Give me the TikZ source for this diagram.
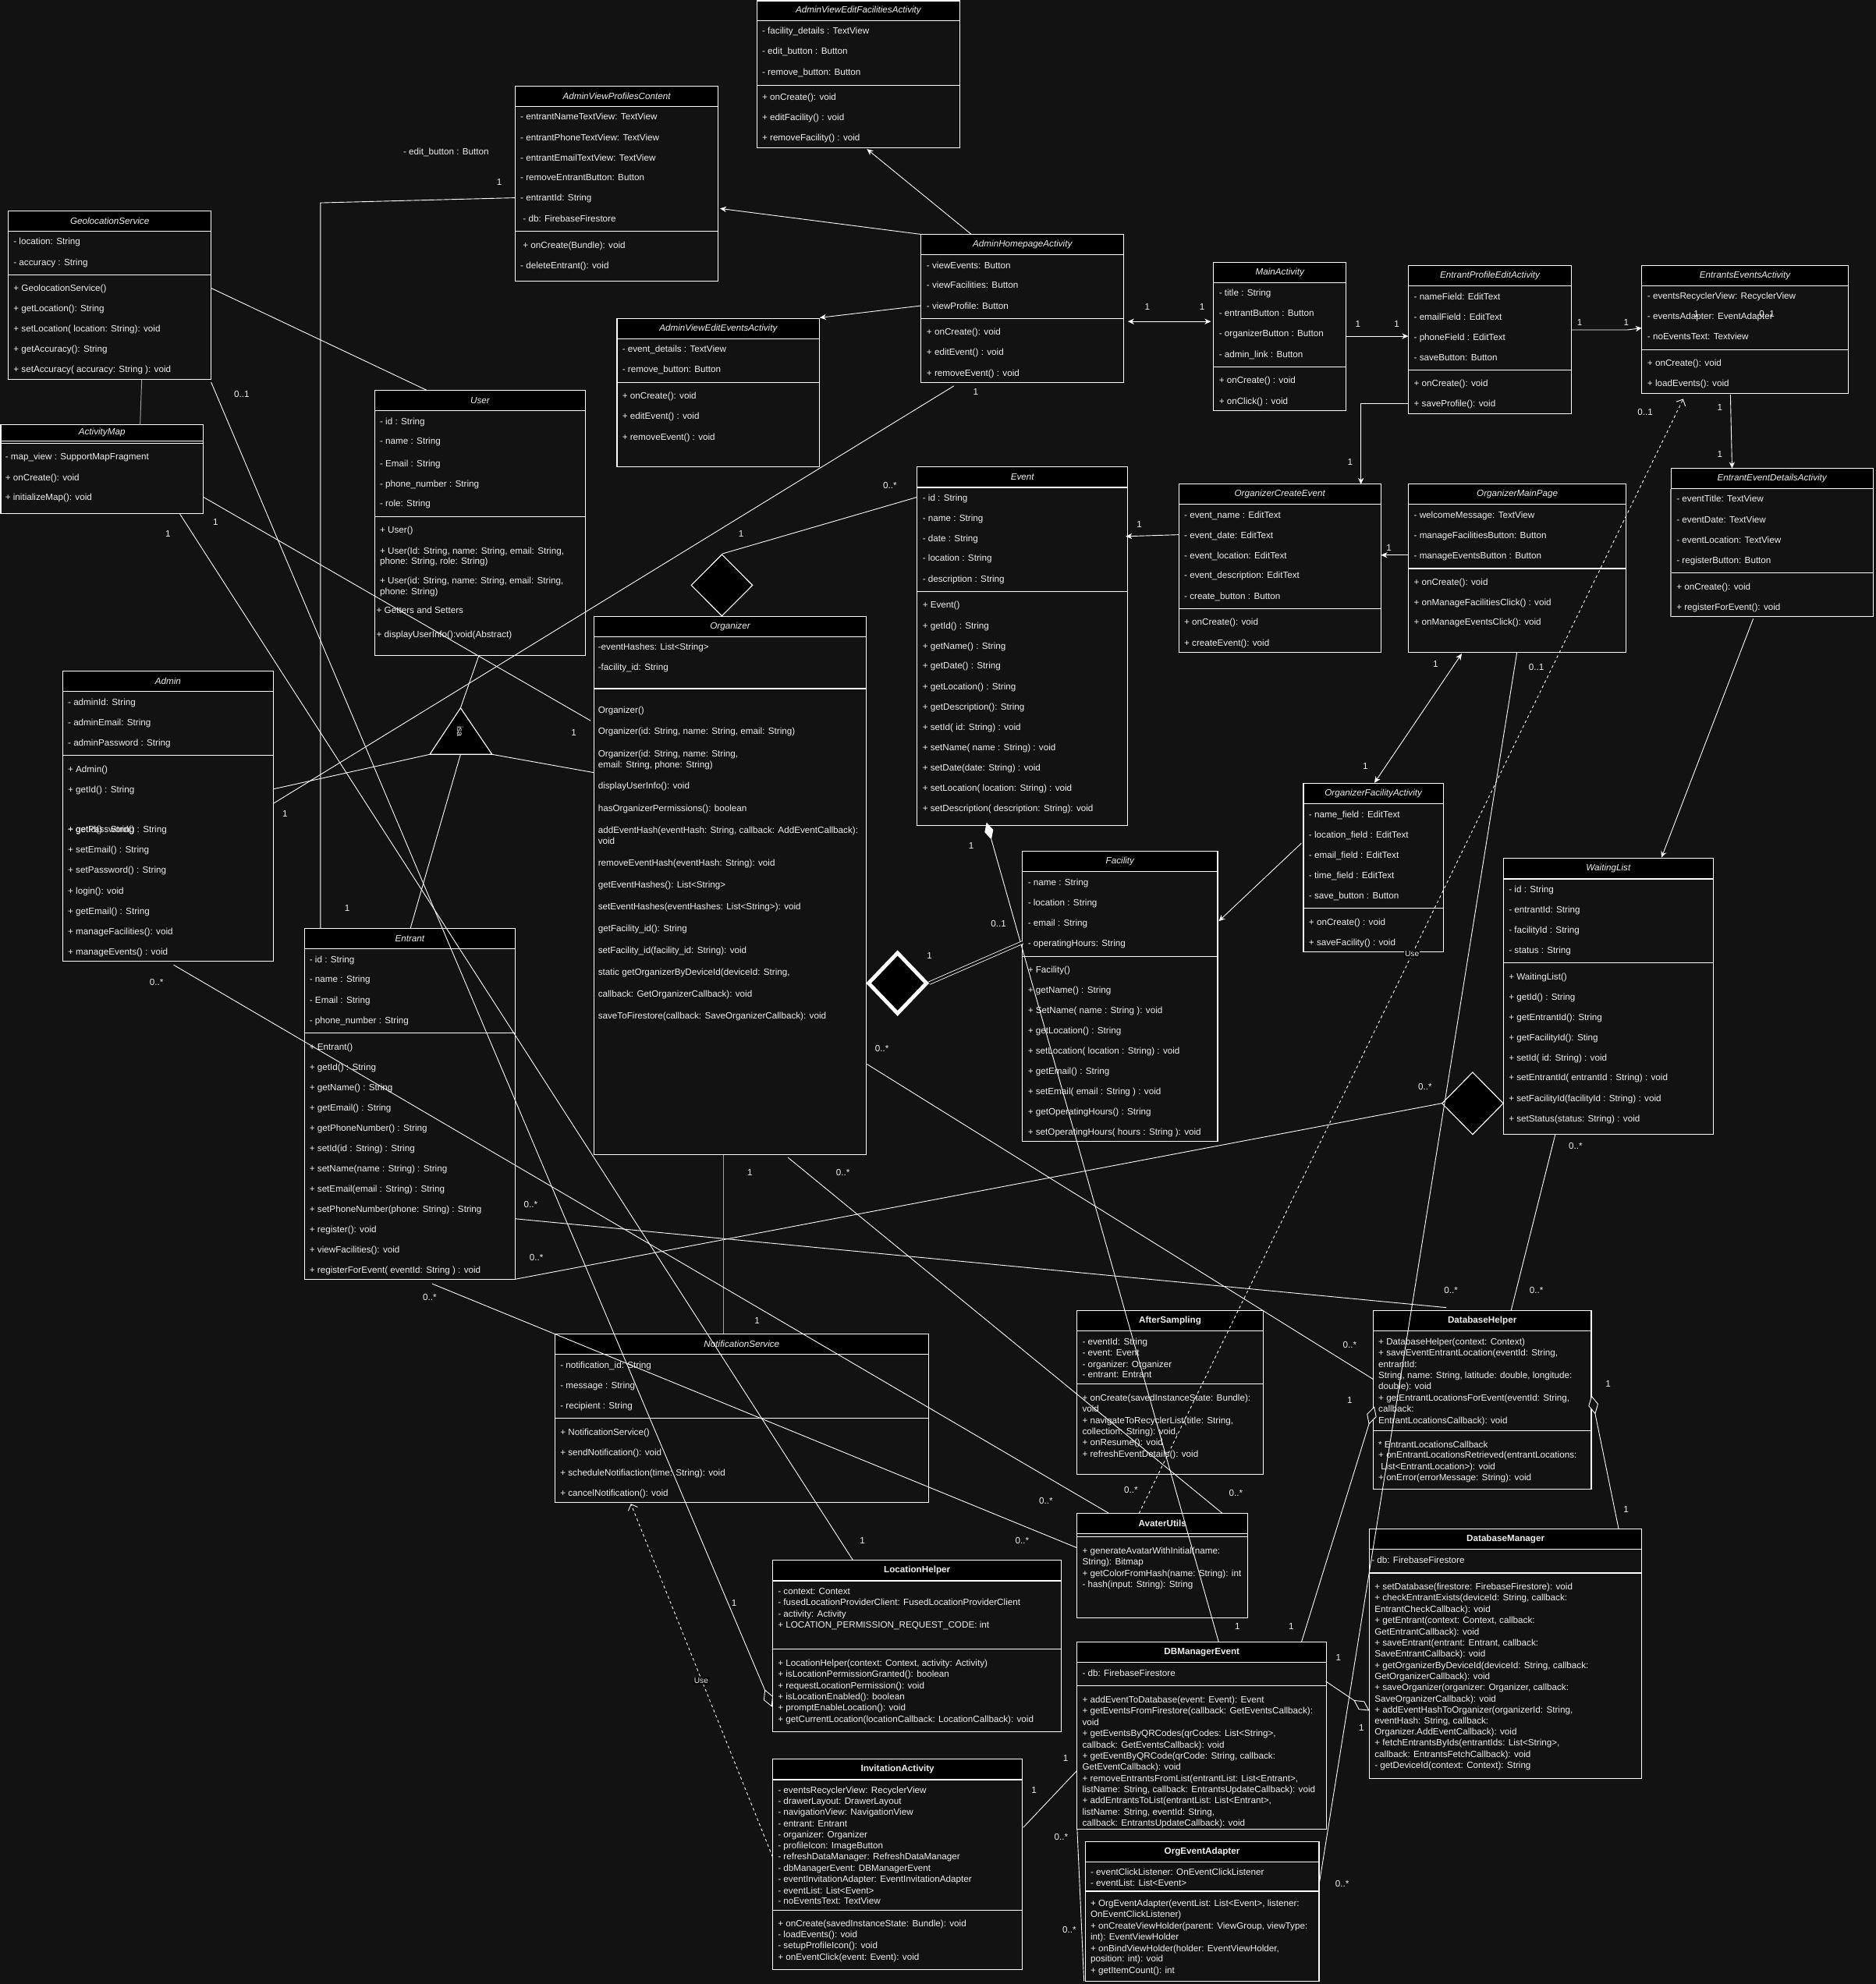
\documentclass[tikz,border=0pt]{standalone}
\usepackage{fontspec}
\setmainfont{Liberation Sans}
\usetikzlibrary{arrows.meta,fit,shapes.geometric}
\definecolor{bgc}{HTML}{121212}
\definecolor{txtc}{HTML}{EEEEEE}
\definecolor{grayln}{HTML}{A0A0A0}
\newcommand\fs{\fontsize{7.2}{8.6}\selectfont}
\newcounter{rowc}
\newcounter{mlc}
\newcommand\umlcls[8]{%
 \node[fit={(#2,#3) (#4,#5)}, inner sep=0pt, draw=none] (#1) {};
 \fill[black] (#2,#3) rectangle (#4,#6);
 \draw[boxline] (#2,#3) rectangle (#4,#5);
 \draw[boxline] (#2,#6) -- (#4,#6);
 \node[#8] (#1-t) at ({(#2+#4)/2},{(#3+#6)/2}) {#7};}
\newcommand\sepl[3]{\draw[boxline] (#1,#3) -- (#2,#3);}
\newcommand\rw[3]{\stepcounter{rowc}\node[rowtxt] (r\the\value{rowc}) at ({#1},{#2+2.5}) {#3};}
\newcommand\ml[3]{\stepcounter{mlc}\node[mult] (m\the\value{mlc}) at ({#1},{#2}) {#3};}
\tikzset{
 boxline/.style={draw=white, line width=0.7pt},
 rowtxt/.style={anchor=base west, inner sep=0pt, font=\fs, text=txtc},
 ttli/.style={inner sep=0pt, font=\fs\itshape, text=txtc},
 ttlb/.style={inner sep=0pt, font=\fs\bfseries, text=txtc},
 mult/.style={inner sep=0pt, font=\fs, text=txtc},
 uselbl/.style={inner sep=0.6pt, fill=black, font=\fontsize{6.3}{7}\selectfont, text=txtc},
 ln/.style={draw=white, line width=0.55pt},
 gln/.style={draw=grayln, line width=0.6pt},
 arr/.style={-{Stealth[length=5pt,width=4.5pt]}},
 barr/.style={{Stealth[length=5pt,width=4.5pt]}-{Stealth[length=5pt,width=4.5pt]}},
 usel/.style={draw=white, line width=0.55pt, dash pattern=on 2.2pt off 2.2pt, -{Straight Barb[length=4pt,width=8pt]}},
 odia/.style={-{Diamond[fill=bgc,length=15pt,width=8pt]}},
 bigdia/.style={diamond, draw=white, fill=black, line width=0.7pt, inner sep=0pt}
}
\begin{document}
\begin{tikzpicture}[x=1pt,y=-1pt]
\fill[bgc] (0,0) rectangle (1482,1568);
\useasboundingbox (0,0) rectangle (1482,1568);

% ---------- classes ----------
\umlcls{avef}{598}{0.6}{758.5}{117}{16.4}{AdminViewEditFacilitiesActivity}{ttli}
\sepl{598}{758.5}{67.5}
\rw{602}{24.5}{- facility\_details : TextView}
\rw{602}{40.6}{- edit\_button : Button}
\rw{602}{56.7}{- remove\_button: Button}
\rw{602}{77}{+ onCreate(): void}
\rw{602}{93}{+ editFacility() : void}
\rw{602}{109}{+ removeFacility() : void}

\umlcls{avpc}{407}{68}{567.6}{222}{84}{AdminViewProfilesContent}{ttli}
\sepl{407}{567.6}{182.7}
\rw{411}{92.3}{- entrantNameTextView: TextView}
\rw{411}{108.5}{- entrantPhoneTextView: TextView}
\rw{411}{124.5}{- entrantEmailTextView: TextView}
\rw{411}{140.4}{- removeEntrantButton: Button}
\rw{411}{156.5}{- entrantId: String}
\rw{413}{172.6}{- db: FirebaseFirestore}
\rw{413}{193.5}{+ onCreate(Bundle): void}
\rw{411}{209.6}{- deleteEntrant(): void}

\rw{318.5}{119.6}{- edit\_button : Button}

\umlcls{geo}{6.6}{166.6}{166.8}{300}{182.7}{GeolocationService}{ttli}
\sepl{6.6}{166.8}{217}
\rw{10.5}{191}{- location: String}
\rw{10.5}{207.1}{- accuracy : String}
\rw{10.5}{228}{+ GeolocationService()}
\rw{10.5}{244}{+ getLocation(): String}
\rw{10.5}{260}{+ setLocation( location: String): void}
\rw{10.5}{276}{+ getAccuracy(): String}
\rw{10.5}{292.1}{+ setAccuracy( accuracy: String ): void}

\umlcls{amap}{0.6}{335.7}{160.5}{406}{348.3}{ActivityMap}{ttli}
\sepl{0.6}{160.5}{350.5}
\rw{4}{361}{- map\_view : SupportMapFragment}
\rw{4}{377.2}{+ onCreate(): void}
\rw{4}{392.6}{+ initializeMap(): void}

\umlcls{user}{296}{308.5}{462.6}{518}{324.6}{User}{ttli}
\sepl{296}{462.6}{408.2}
\rw{300}{332.9}{- id : String}
\rw{300}{348.8}{- name : String}
\rw{300}{366.1}{- Email : String}
\rw{300}{382.2}{- phone\_number : String}
\rw{300}{398}{- role: String}
\rw{300}{419}{+ User()}
\rw{300}{435.2}{+ User(Id: String, name: String, email: String,}
\rw{300}{443.7}{phone: String, role: String)}
\rw{300}{458.6}{+ User(id: String, name: String, email: String,}
\rw{300}{467.2}{phone: String)}
\rw{297.3}{482}{+ Getters and Setters}
\rw{297.3}{501.6}{+ displayUserInfo():void(Abstract)}

\umlcls{admin}{49.5}{530.3}{216}{759.5}{546.4}{Admin}{ttli}
\sepl{49.5}{216}{597}
\rw{53.5}{554.7}{- adminId: String}
\rw{53.5}{571}{- adminEmail: String}
\rw{53.5}{587}{- adminPassword : String}
\rw{53.5}{607.8}{+ Admin()}
\rw{53.5}{624}{+ getId() : String}
\rw{53.5}{655.6}{+ getPassword() : String}
\rw{53.5}{655.6}{+ getId() : String}
\rw{53.5}{671.7}{+ setEmail() : String}
\rw{53.5}{687.8}{+ setPassword() : String}
\rw{53.5}{703.9}{+ login(): void}
\rw{53.5}{720}{+ getEmail() : String}
\rw{53.5}{736}{+ manageFacilities(): void}
\rw{53.5}{752}{+ manageEvents() : void}

\umlcls{entrant}{240.6}{733.9}{407}{1011}{750}{Entrant}{ttli}
\sepl{240.6}{407}{816.5}
\rw{244.4}{758.3}{- id : String}
\rw{244.4}{774}{- name : String}
\rw{244.4}{790.3}{- Email : String}
\rw{244.4}{806.2}{- phone\_number : String}
\rw{244.4}{827.3}{+ Entrant()}
\rw{244.4}{843.2}{+ getId() : String}
\rw{244.4}{859.3}{+ getName() : String}
\rw{244.4}{875.4}{+ getEmail() : String}
\rw{244.4}{891.3}{+ getPhoneNumber() : String}
\rw{244.4}{907.3}{+ setId(id : String) : String}
\rw{244.4}{923.5}{+ setName(name : String) : String}
\rw{244.4}{939.3}{+ setEmail(email : String) : String}
\rw{244.4}{955.4}{+ setPhoneNumber(phone: String) : String}
\rw{244.4}{971.5}{+ register(): void}
\rw{244.4}{987.6}{+ viewFacilities(): void}
\rw{244.4}{1003.5}{+ registerForEvent( eventId: String ) : void}

\umlcls{org}{469.2}{487.3}{684.6}{912.6}{503.3}{Organizer}{ttli}
\sepl{469.2}{684.6}{544.2}
\rw{472.4}{511.4}{-eventHashes: List<String>}
\rw{472.4}{527.5}{-facility\_id: String}
\rw{472.4}{561}{Organizer()}
\rw{472.4}{578}{Organizer(id: String, name: String, email: String)}
\rw{472.4}{595.5}{Organizer(id: String, name: String,}
\rw{472.4}{604}{email: String, phone: String)}
\rw{472.4}{621.2}{displayUserInfo(): void}
\rw{472.4}{638.5}{hasOrganizerPermissions(): boolean}
\rw{472.4}{655.9}{addEventHash(eventHash: String, callback: AddEventCallback):}
\rw{472.4}{664.4}{void}
\rw{472.4}{681.8}{removeEventHash(eventHash: String): void}
\rw{472.4}{699}{getEventHashes(): List<String>}
\rw{472.4}{716.2}{setEventHashes(eventHashes: List<String>): void}
\rw{472.4}{733.6}{getFacility\_id(): String}
\rw{472.4}{750.7}{setFacility\_id(facility\_id: String): void}
\rw{472.4}{768}{static getOrganizerByDeviceId(deviceId: String,}
\rw{472.4}{785.3}{callback: GetOrganizerCallback): void}
\rw{472.4}{802.6}{saveToFirestore(callback: SaveOrganizerCallback): void}

\umlcls{avee}{487.5}{251.9}{647.7}{368.9}{268}{AdminViewEditEventsActivity}{ttli}
\sepl{487.5}{647.7}{302.2}
\rw{491.5}{276}{- event\_details : TextView}
\rw{491.5}{292}{- remove\_button: Button}
\rw{491.5}{313}{+ onCreate(): void}
\rw{491.5}{329}{+ editEvent() : void}
\rw{491.5}{345.2}{+ removeEvent() : void}

\umlcls{ahome}{727.8}{185.2}{888}{302.2}{201.3}{AdminHomepageActivity}{ttli}
\sepl{727.8}{888}{251.9}
\rw{732}{209.6}{- viewEvents: Button}
\rw{732}{225.5}{- viewFacilities: Button}
\rw{732}{241.6}{- viewProfile: Button}
\rw{732}{262.4}{+ onCreate(): void}
\rw{732}{278.5}{+ editEvent() : void}
\rw{732}{294.7}{+ removeEvent() : void}

\umlcls{main}{958.9}{207.6}{1063.6}{324.6}{223.4}{MainActivity}{ttli}
\sepl{958.9}{1063.6}{290.1}
\rw{963}{231.5}{- title : String}
\rw{963}{247.6}{- entrantButton : Button}
\rw{963}{263.7}{- organizerButton : Button}
\rw{963}{279.8}{- admin\_link : Button}
\rw{963}{300.7}{+ onCreate() : void}
\rw{963}{316.8}{+ onClick() : void}

\umlcls{epea}{1112.8}{209.9}{1241.8}{326.9}{226}{EntrantProfileEditActivity}{ttli}
\sepl{1112.8}{1241.8}{292.4}
\rw{1117}{234.3}{- nameField: EditText}
\rw{1117}{250.4}{- emailField : EditText}
\rw{1117}{266.5}{- phoneField : EditText}
\rw{1117}{282.6}{- saveButton: Button}
\rw{1117}{303}{+ onCreate(): void}
\rw{1117}{319}{+ saveProfile(): void}

\umlcls{eea}{1297.3}{209.9}{1460.3}{311}{226}{EntrantsEventsActivity}{ttli}
\sepl{1297.3}{1460.3}{276.5}
\rw{1301.5}{234}{- eventsRecyclerView: RecyclerView}
\rw{1301.5}{250}{- eventsAdapter: EventAdapter}
\rw{1301.5}{266}{- noEventsText: Textview}
\rw{1301.5}{287}{+ onCreate(): void}
\rw{1301.5}{303.2}{+ loadEvents(): void}

\umlcls{eed}{1320.3}{370.1}{1480}{487.3}{386.2}{EntrantEventDetailsActivity}{ttli}
\sepl{1320.3}{1480}{452.8}
\draw[draw=grayln, line width=0.9pt] (1320.3,386.6) -- (1320.3,487.3);
\rw{1324.5}{394.4}{- eventTitle: TextView}
\rw{1324.5}{410.5}{- eventDate: TextView}
\rw{1324.5}{426.6}{- eventLocation: TextView}
\rw{1324.5}{442.6}{- registerButton: Button}
\rw{1324.5}{463.6}{+ onCreate(): void}
\rw{1324.5}{479.5}{+ registerForEvent(): void}

\umlcls{event}{724.6}{369.1}{891.1}{652.6}{385.2}{Event}{ttli}
\sepl{724.6}{891.1}{467.7}
\rw{728.8}{393.2}{- id : String}
\rw{728.8}{409.3}{- name : String}
\rw{728.8}{425.4}{- date : String}
\rw{728.8}{441.2}{- location : String}
\rw{728.8}{457.3}{- description : String}
\rw{728.8}{478.2}{+ Event()}
\rw{728.8}{494.3}{+ getId() : String}
\rw{728.8}{510.4}{+ getName() : String}
\rw{728.8}{526.3}{+ getDate() : String}
\rw{728.8}{542.4}{+ getLocation() : String}
\rw{728.8}{558.5}{+ getDescription(): String}
\rw{728.8}{574.6}{+ setId( id: String) : void}
\rw{728.8}{590.5}{+ setName( name : String) : void}
\rw{728.8}{606.6}{+ setDate(date: String) : void}
\rw{728.8}{622.7}{+ setLocation( location: String) : void}
\rw{728.8}{638.5}{+ setDescription( description: String): void}

\umlcls{oce}{931.5}{382.7}{1091}{515.7}{398.4}{OrganizerCreateEvent}{ttli}
\sepl{931.5}{1091}{481.2}
\rw{935.5}{406.8}{- event\_name : EditText}
\rw{935.5}{422.8}{- event\_date: EditText}
\rw{935.5}{438.9}{- event\_location: EditText}
\rw{935.5}{454.8}{- event\_description: EditText}
\rw{935.5}{470.9}{- create\_button : Button}
\rw{935.5}{491.8}{+ onCreate(): void}
\rw{935.5}{507.9}{+ createEvent(): void}

\umlcls{omp}{1112.8}{382.7}{1285}{515.7}{398.4}{OrganizerMainPage}{ttli}
\sepl{1112.8}{1285}{449.3}
\rw{1117}{406.8}{- welcomeMessage: TextView}
\rw{1117}{422.8}{- manageFacilitiesButton: Button}
\rw{1117}{438.9}{- manageEventsButton : Button}
\rw{1117}{459.8}{+ onCreate(): void}
\rw{1117}{475.9}{+ onManageFacilitiesClick() : void}
\rw{1117}{491.8}{+ onManageEventsClick(): void}

\umlcls{ofa}{1029.9}{619.2}{1140.5}{752.2}{635.2}{OrganizerFacilityActivity}{ttli}
\sepl{1029.9}{1140.5}{717.8}
\rw{1034}{643.5}{- name\_field : EditText}
\rw{1034}{659.6}{- location\_field : EditText}
\rw{1034}{675.7}{- email\_field : EditText}
\rw{1034}{691.7}{- time\_field : EditText}
\rw{1034}{707.8}{- save\_button : Button}
\rw{1034}{728.6}{+ onCreate() : void}
\rw{1034}{744.7}{+ saveFacility() : void}

\umlcls{fac}{807.9}{673}{962.1}{902.1}{689}{Facility}{ttli}
\sepl{807.9}{962.1}{755.7}
\rw{812}{697.1}{- name : String}
\rw{812}{713.2}{- location : String}
\rw{812}{729.3}{- email : String}
\rw{812}{745.4}{- operatingHours: String}
\rw{812}{766.1}{+ Facility()}
\rw{812}{782.3}{+ getName() : String}
\rw{812}{798.2}{+ SetName( name : String ): void}
\rw{812}{814.2}{+ getLocation() : String}
\rw{812}{830.3}{+ setLocation( location : String) : void}
\rw{812}{846.3}{+ getEmail() : String}
\rw{812}{862.3}{+ setEmail( email : String ) : void}
\rw{812}{878.4}{+ getOperatingHours() : String}
\rw{812}{894.5}{+ setOperatingHours( hours : String ): void}

\umlcls{wl}{1187.9}{678.5}{1353.7}{896.6}{694.6}{WaitingList}{ttli}
\sepl{1187.9}{1353.7}{761}
\rw{1192}{702.6}{- id : String}
\rw{1192}{718.8}{- entrantId: String}
\rw{1192}{734.8}{- facilityId : String}
\rw{1192}{750.7}{- status : String}
\rw{1192}{771.8}{+ WaitingList()}
\rw{1192}{787.9}{+ getId() : String}
\rw{1192}{803.7}{+ getEntrantId(): String}
\rw{1192}{819.8}{+ getFacilityId(): Sting}
\rw{1192}{835.9}{+ setId( id: String) : void}
\rw{1192}{851.7}{+ setEntrantId( entrantId : String) : void}
\rw{1192}{867.9}{+ setFacilityId(facilityId : String) : void}
\rw{1192}{884}{+ setStatus(status: String) : void}

\umlcls{ns}{438.3}{1054.2}{733.8}{1187.3}{1070.4}{NotificationService}{ttli}
\sepl{438.3}{733.8}{1121}
\rw{442.5}{1078.7}{- notification\_id: String}
\rw{442.5}{1094.8}{- message : String}
\rw{442.5}{1111}{- recipient : String}
\rw{442.5}{1131.6}{+ NotificationService()}
\rw{442.5}{1147.6}{+ sendNotification(): void}
\rw{442.5}{1163.8}{+ scheduleNotifiaction(time: String): void}
\rw{442.5}{1179.7}{+ cancelNotification(): void}

\umlcls{as}{851.1}{1036}{998}{1165}{1051.7}{AfterSampling}{ttlb}
\sepl{851.1}{998}{1093.8}
\rw{855}{1060.4}{- eventId: String}
\rw{855}{1068.9}{- event: Event}
\rw{855}{1078}{- organizer: Organizer}
\rw{855}{1086.5}{- entrant: Entrant}
\rw{855}{1104.6}{+ onCreate(savedInstanceState: Bundle):}
\rw{855}{1113.2}{void}
\rw{855}{1122.5}{+ navigateToRecyclerList(title: String,}
\rw{855}{1131}{collection: String): void,}
\rw{855}{1140.1}{+ onResume(): void}
\rw{855}{1149}{+ refreshEventDetails(): void}

\umlcls{dbh}{1085}{1036}{1257.3}{1177}{1051.7}{DatabaseHelper}{ttlb}
\sepl{1085}{1257.3}{1130.8}
\rw{1089}{1060.4}{+ DatabaseHelper(context: Context)}
\rw{1089}{1068.9}{+ saveEventEntrantLocation(eventId: String,}
\rw{1089}{1078}{entrantId:}
\rw{1089}{1086.8}{String, name: String, latitude: double, longitude:}
\rw{1089}{1095.8}{double): void}
\rw{1089}{1104.6}{+ getEntrantLocationsForEvent(eventId: String,}
\rw{1089}{1113.2}{callback:}
\rw{1089}{1122.5}{EntrantLocationsCallback): void}
\rw{1089}{1141.5}{* EntrantLocationsCallback}
\rw{1089}{1150}{+ onEntrantLocationsRetrieved(entrantLocations:}
\rw{1091}{1159.2}{List<EntrantLocation>): void}
\rw{1089}{1167.7}{+ onError(errorMessage: String): void}

\umlcls{dbm}{1082}{1208.5}{1297.3}{1405.8}{1224.5}{DatabaseManager}{ttlb}
\sepl{1082}{1297.3}{1243.2}
\rw{1083.5}{1232.8}{- db: FirebaseFirestore}
\rw{1086}{1253.8}{+ setDatabase(firestore: FirebaseFirestore): void}
\rw{1086}{1262.4}{+ checkEntrantExists(deviceId: String, callback:}
\rw{1086}{1271.8}{EntrantCheckCallback): void}
\rw{1086}{1280.5}{+ getEntrant(context: Context, callback:}
\rw{1086}{1289.5}{GetEntrantCallback): void}
\rw{1086}{1298.1}{+ saveEntrant(entrant: Entrant, callback:}
\rw{1086}{1306.7}{SaveEntrantCallback): void}
\rw{1086}{1316}{+ getOrganizerByDeviceId(deviceId: String, callback:}
\rw{1086}{1324.6}{GetOrganizerCallback): void}
\rw{1086}{1333.7}{+ saveOrganizer(organizer: Organizer, callback:}
\rw{1086}{1342.5}{SaveOrganizerCallback): void}
\rw{1086}{1351.1}{+ addEventHashToOrganizer(organizerId: String,}
\rw{1086}{1360.2}{eventHash: String, callback:}
\rw{1086}{1368.8}{Organizer.AddEventCallback): void}
\rw{1086}{1377.4}{+ fetchEntrantsByIds(entrantIds: List<String>,}
\rw{1086}{1386.7}{callback: EntrantsFetchCallback): void}
\rw{1086}{1395.3}{- getDeviceId(context: Context): String}

\umlcls{av}{851.1}{1196.1}{986}{1278.7}{1211.8}{AvaterUtils}{ttlb}
\sepl{851.1}{986}{1214.6}
\rw{855}{1225.3}{+ generateAvatarWithInitial(name:}
\rw{855}{1234.1}{String): Bitmap}
\rw{855}{1243.5}{+ getColorFromHash(name: String): int}
\rw{855}{1252.1}{- hash(input: String): String}

\umlcls{lh}{610.5}{1232.8}{838.8}{1368.8}{1249.3}{LocationHelper}{ttlb}
\sepl{610.5}{838.8}{1303.5}
\rw{614.5}{1257.7}{- context: Context}
\rw{614.5}{1266.3}{- fusedLocationProviderClient: FusedLocationProviderClient}
\rw{614.5}{1275.4}{- activity: Activity}
\rw{614.5}{1284}{+ LOCATION\_PERMISSION\_REQUEST\_CODE: int}
\rw{614.5}{1314.4}{+ LocationHelper(context: Context, activity: Activity)}
\rw{614.5}{1323}{+ isLocationPermissionGranted(): boolean}
\rw{614.5}{1332}{+ requestLocationPermission(): void}
\rw{614.5}{1340.6}{+ isLocationEnabled(): boolean}
\rw{614.5}{1349.6}{+ promptEnableLocation(): void}
\rw{614.5}{1358.5}{+ getCurrentLocation(locationCallback: LocationCallback): void}

\umlcls{ia}{610.5}{1390.3}{807.9}{1556.7}{1406.5}{InvitationActivity}{ttlb}
\sepl{610.5}{807.9}{1509.8}
\rw{614.5}{1414.6}{- eventsRecyclerView: RecyclerView}
\rw{614.5}{1423.5}{- drawerLayout: DrawerLayout}
\rw{614.5}{1432.3}{- navigationView: NavigationView}
\rw{614.5}{1441}{- entrant: Entrant}
\rw{614.5}{1450}{- organizer: Organizer}
\rw{614.5}{1458.8}{- profileIcon: ImageButton}
\rw{614.5}{1467.3}{- refreshDataManager: RefreshDataManager}
\rw{614.5}{1476.4}{- dbManagerEvent: DBManagerEvent}
\rw{614.5}{1485}{- eventInvitationAdapter: EventInvitationAdapter}
\rw{614.5}{1494}{- eventList: List<Event>}
\rw{614.5}{1502.6}{- noEventsText: TextView}
\rw{614.5}{1520}{+ onCreate(savedInstanceState: Bundle): void}
\rw{614.5}{1528.6}{- loadEvents(): void}
\rw{614.5}{1537.7}{- setupProfileIcon(): void}
\rw{614.5}{1546.6}{+ onEventClick(event: Event): void}

\umlcls{dbme}{851.1}{1297.9}{1048.2}{1445.6}{1313.8}{DBManagerEvent}{ttlb}
\sepl{851.1}{1048.2}{1332.3}
\rw{855}{1322.2}{- db: FirebaseFirestore}
\rw{855}{1343.2}{+ addEventToDatabase(event: Event): Event}
\rw{855}{1351.8}{+ getEventsFromFirestore(callback: GetEventsCallback):}
\rw{855}{1360.9}{void}
\rw{855}{1369.8}{+ getEventsByQRCodes(qrCodes: List<String>,}
\rw{855}{1378.9}{callback: GetEventsCallback): void}
\rw{855}{1387.7}{+ getEventByQRCode(qrCode: String, callback:}
\rw{855}{1396}{GetEventCallback): void}
\rw{855}{1405.4}{+ removeEntrantsFromList(entrantList: List<Entrant>,}
\rw{855}{1414}{listName: String, callback: EntrantsUpdateCallback): void}
\rw{855}{1423.1}{+ addEntrantsToList(entrantList: List<Entrant>,}
\rw{855}{1432}{listName: String, eventId: String,}
\rw{855}{1440.5}{callback: EntrantsUpdateCallback): void}

\umlcls{oea}{857.4}{1455.4}{1042.2}{1565.8}{1471.6}{OrgEventAdapter}{ttlb}
\sepl{857.4}{1042.2}{1494.6}
\rw{861.5}{1479.7}{- eventClickListener: OnEventClickListener}
\rw{861.5}{1488}{- eventList: List<Event>}
\rw{861.5}{1504.3}{+ OrgEventAdapter(eventList: List<Event>, listener:}
\rw{861.5}{1512.8}{OnEventClickListener)}
\rw{861.5}{1522}{+ onCreateViewHolder(parent: ViewGroup, viewType:}
\rw{861.5}{1530.4}{int): EventViewHolder}
\rw{861.5}{1539.6}{+ onBindViewHolder(holder: EventViewHolder,}
\rw{861.5}{1548.2}{position: int): void}
\rw{861.5}{1557}{+ getItemCount(): int}

% ---------- diamonds and isa ----------
\node[bigdia, minimum width=48.6pt, minimum height=48.8pt] (ordd) at (570.4,462.5) {};
\node[bigdia, line width=3pt, minimum width=47pt, minimum height=49pt] (facd) at (709.2,777) {};
\node[bigdia, minimum width=48.6pt, minimum height=49.4pt] (wld) at (1163.6,872) {};
\coordinate (isaT) at (363.9,559.5);
\coordinate (isaL) at (339.6,596.2);
\coordinate (isaR) at (388.8,596.2);
\coordinate (isaB) at (363.9,596.2);
\filldraw[fill=black, draw=white, line width=0.7pt] (isaT) -- (isaR) -- (isaL) -- cycle;
\node[rotate=-90, inner sep=0pt, font=\fontsize{6.5}{7}\selectfont, text=txtc] (isa) at (363.6,578) {isa};

% ---------- connectors ----------
\coordinate (p1a) at (727.8,185.2); \coordinate (p1b) at (568.9,164.8);
\draw[ln,arr] (p1a) -- (p1b);
\coordinate (p2a) at (767.5,185.2); \coordinate (p2b) at (685,117.8);
\draw[ln,arr] (p2a) -- (p2b);
\coordinate (p3a) at (727.8,241.6); \coordinate (p3b) at (647.7,251.1);
\draw[ln,arr] (p3a) -- (p3b);
\coordinate (p4a) at (891.1,254.1); \coordinate (p4b) at (956.8,254.1);
\draw[ln,barr] (p4a) -- (p4b);
\coordinate (p5a) at (1063.6,265.7); \coordinate (p5b) at (1112.8,265.7);
\draw[ln,arr] (p5a) -- (p5b);
\coordinate (p6a) at (1241.8,260.7); \coordinate (p6m) at (1286,260.7); \coordinate (p6b) at (1297.3,259.2);
\draw[ln,arr] (p6a) -- (p6m) -- (p6b);
\coordinate (p7a) at (1112.8,319); \coordinate (p7b) at (1075.3,382.7);
\draw[ln,arr] (p7a) -| (p7b);
\coordinate (p8a) at (1367.3,312); \coordinate (p8b) at (1368.6,370.1);
\draw[ln,arr] (p8a) -- (p8b);
\coordinate (p9a) at (900,1196.1); \coordinate (p9b) at (1330,315.3);
\draw[usel] (p9a) -- (p9b);
\coordinate (p10a) at (1112.8,438.7); \coordinate (p10b) at (1091.2,438.7);
\draw[ln,arr] (p10a) -- (p10b);
\coordinate (p11a) at (931.5,422.6); \coordinate (p11b) at (889.5,423.9);
\draw[ln,arr] (p11a) -- (p11b);
\coordinate (p12a) at (1155,516.6); \coordinate (p12b) at (1086,618.7);
\draw[ln,barr] (p12a) -- (p12b);
\coordinate (p13a) at (1028.3,666.4); \coordinate (p13b) at (963,728);
\draw[ln,arr] (p13a) -- (p13b);
\coordinate (p14a) at (1385.3,489); \coordinate (p14b) at (1312.8,677.8);
\draw[ln,arr] (p14a) -- (p14b);
\coordinate (p15a) at (1198.6,515.7); \coordinate (p15b) at (1042.5,1488);
\draw[ln] (p15a) -- (p15b);
\coordinate (p16a) at (1228.9,896.6); \coordinate (p16b) at (1194,1035.7);
\draw[ln] (p16a) -- (p16b);
\coordinate (p17a) at (407,963.2); \coordinate (p17b) at (1142.8,1033.4);
\draw[ln] (p17a) -- (p17b);
\coordinate (p18a) at (407,1011);
\draw[ln] (p18a) -- (wld.west);
\coordinate (p19a) at (685,841); \coordinate (p19b) at (1085,1090);
\draw[ln] (p19a) -- (p19b);
\coordinate (p20a) at (571.4,912.6); \coordinate (p20b) at (571.4,1054.2);
\draw[gln] (p20a) -- (p20b);
\coordinate (p21a) at (622.5,914.7); \coordinate (p21b) at (966,1196.1);
\draw[ln] (p21a) -- (p21b);
\coordinate (p22a) at (137.2,762.6); \coordinate (p22b) at (876.4,1196.1);
\draw[ln] (p22a) -- (p22b);
\coordinate (p23a) at (341.5,1014.6); \coordinate (p23b) at (851.1,1223.3);
\draw[ln] (p23a) -- (p23b);
\coordinate (p24a) at (779.5,650); \coordinate (p24b) at (963,1297.9);
\draw[ln,{Diamond[fill=white,length=14pt,width=7pt]}-] (p24a) -- (p24b);
\coordinate (p25b) at (808,744.8);
\draw[draw=white, line width=0.5pt, double=bgc, double distance=1.8pt] (facd.east) -- (p25b);
\coordinate (p26a) at (724.6,392.9);
\draw[ln] (p26a) -- (ordd.north);
\coordinate (p27a) at (753.7,305); \coordinate (p27b) at (216,635);
\draw[ln] (p27a) -- (p27b);
\coordinate (p28a) at (216,623.6);
\draw[ln] (p28a) -- (isaL);
\coordinate (p29b) at (469.2,610.6);
\draw[ln] (isaR) -- (p29b);
\coordinate (p30b) at (378.4,518);
\draw[ln] (isaT) -- (p30b);
\coordinate (p31b) at (324.2,733.9);
\draw[ln] (isaB) -- (p31b);
\coordinate (p32a) at (407.1,156.3); \coordinate (p32m) at (253.2,160.3); \coordinate (p32b) at (253.2,733.9);
\draw[ln] (p32a) -- (p32m) -- (p32b);
\coordinate (p33a) at (166.8,227.7); \coordinate (p33b) at (337.4,308.5);
\draw[ln] (p33a) -- (p33b);
\coordinate (p34a) at (112,300); \coordinate (p34b) at (110.7,335.7);
\draw[gln] (p34a) -- (p34b);
\coordinate (p35a) at (160.8,392.9); \coordinate (p35b) at (466.7,569.6);
\draw[ln] (p35a) -- (p35b);
\coordinate (p36a) at (142,406); \coordinate (p36b) at (673.8,1232.8);
\draw[ln] (p36a) -- (p36b);
\coordinate (p37a) at (166.8,302); \coordinate (p37b) at (610,1349);
\draw[ln,odia] (p37a) -- (p37b);
\coordinate (p38a) at (610.5,1467.6); \coordinate (p38b) at (498.5,1188.5);
\draw[usel] (p38a) -- (p38b);
\coordinate (p39a) at (808.5,1444.3); \coordinate (p39b) at (851.1,1399.2);
\draw[ln] (p39a) -- (p39b);
\coordinate (p40a) at (851.1,1445.6); \coordinate (p40b) at (856.5,1565.8);
\draw[ln] (p40a) -- (p40b);
\coordinate (p41a) at (1028.3,1297.9); \coordinate (p41b) at (1086,1111.5);
\draw[ln,odia] (p41a) -- (p41b);
\coordinate (p42a) at (1279,1208.5); \coordinate (p42b) at (1257.5,1103);
\draw[ln,odia] (p42a) -- (p42b);
\coordinate (p43a) at (1047.6,1328.8); \coordinate (p43b) at (1082,1352);
\draw[ln,odia] (p43a) -- (p43b);

% ---------- labels ----------
\node[uselbl] (use1) at (1115.7,754) {Use};
\node[uselbl] (use2) at (554,1328.3) {Use};
\ml{906.6}{242.3}{1} \ml{949.8}{242.3}{1}
\ml{1073}{255.9}{1} \ml{1103.7}{255.9}{1}
\ml{1248.1}{254.6}{1} \ml{1285}{254.6}{1}
\ml{1066.8}{365.4}{1}
\ml{1358.9}{322}{1} \ml{1358.9}{359}{1}
\ml{1300}{325.9}{0..1} \ml{893.7}{1177.6}{0..*}
\ml{1097.4}{433.2}{1} \ml{900.3}{414.5}{1}
\ml{1134.3}{524.5}{1} \ml{1078.8}{605.4}{1}
\ml{1214}{527}{0..1} \ml{1060.5}{1488.5}{0..*}
\ml{1245}{905.6}{0..*} \ml{1214}{1020}{0..*}
\ml{419.4}{952.2}{0..*} \ml{1146.5}{1020}{0..*}
\ml{423.8}{993.6}{0..*} \ml{1126}{858.6}{0..*}
\ml{696.9}{828.9}{0..*} \ml{1066.5}{1063}{0..*}
\ml{592.5}{926.5}{1} \ml{598.2}{1043.5}{1}
\ml{666}{926.5}{0..*} \ml{976.5}{1180.2}{0..*}
\ml{123.6}{776}{0..*} \ml{826.5}{1186}{0..*}
\ml{339.6}{1025.2}{0..*} \ml{807.6}{1217.4}{0..*}
\ml{767.5}{668.5}{1} \ml{977.8}{1285.3}{1}
\ml{789}{730}{0..1} \ml{734.5}{755.2}{1}
\ml{703.2}{383.7}{0..*} \ml{585.6}{421.9}{1}
\ml{771}{310}{1} \ml{225.2}{643}{1}
\ml{394.5}{143.7}{1} \ml{274.3}{718}{1}
\ml{170.3}{412.8}{1} \ml{453.4}{578.9}{1}
\ml{132.8}{421.9}{1} \ml{681.5}{1217.4}{1}
\ml{191}{311.3}{0..1} \ml{580.1}{1266.8}{1}
\ml{817}{1414.9}{1} \ml{842}{1389.6}{1}
\ml{838.4}{1451.6}{0..*} \ml{845}{1525.3}{0..*}
\ml{1066.5}{1106.4}{1} \ml{1020.3}{1285.3}{1}
\ml{1270.6}{1094}{1} \ml{1284.8}{1192.8}{1}
\ml{1057.6}{1309.8}{1} \ml{1075.8}{1365.3}{1}
\ml{1340.3}{247.9}{1} \ml{1396.1}{247.9}{0..1}
\end{tikzpicture}
\end{document}
